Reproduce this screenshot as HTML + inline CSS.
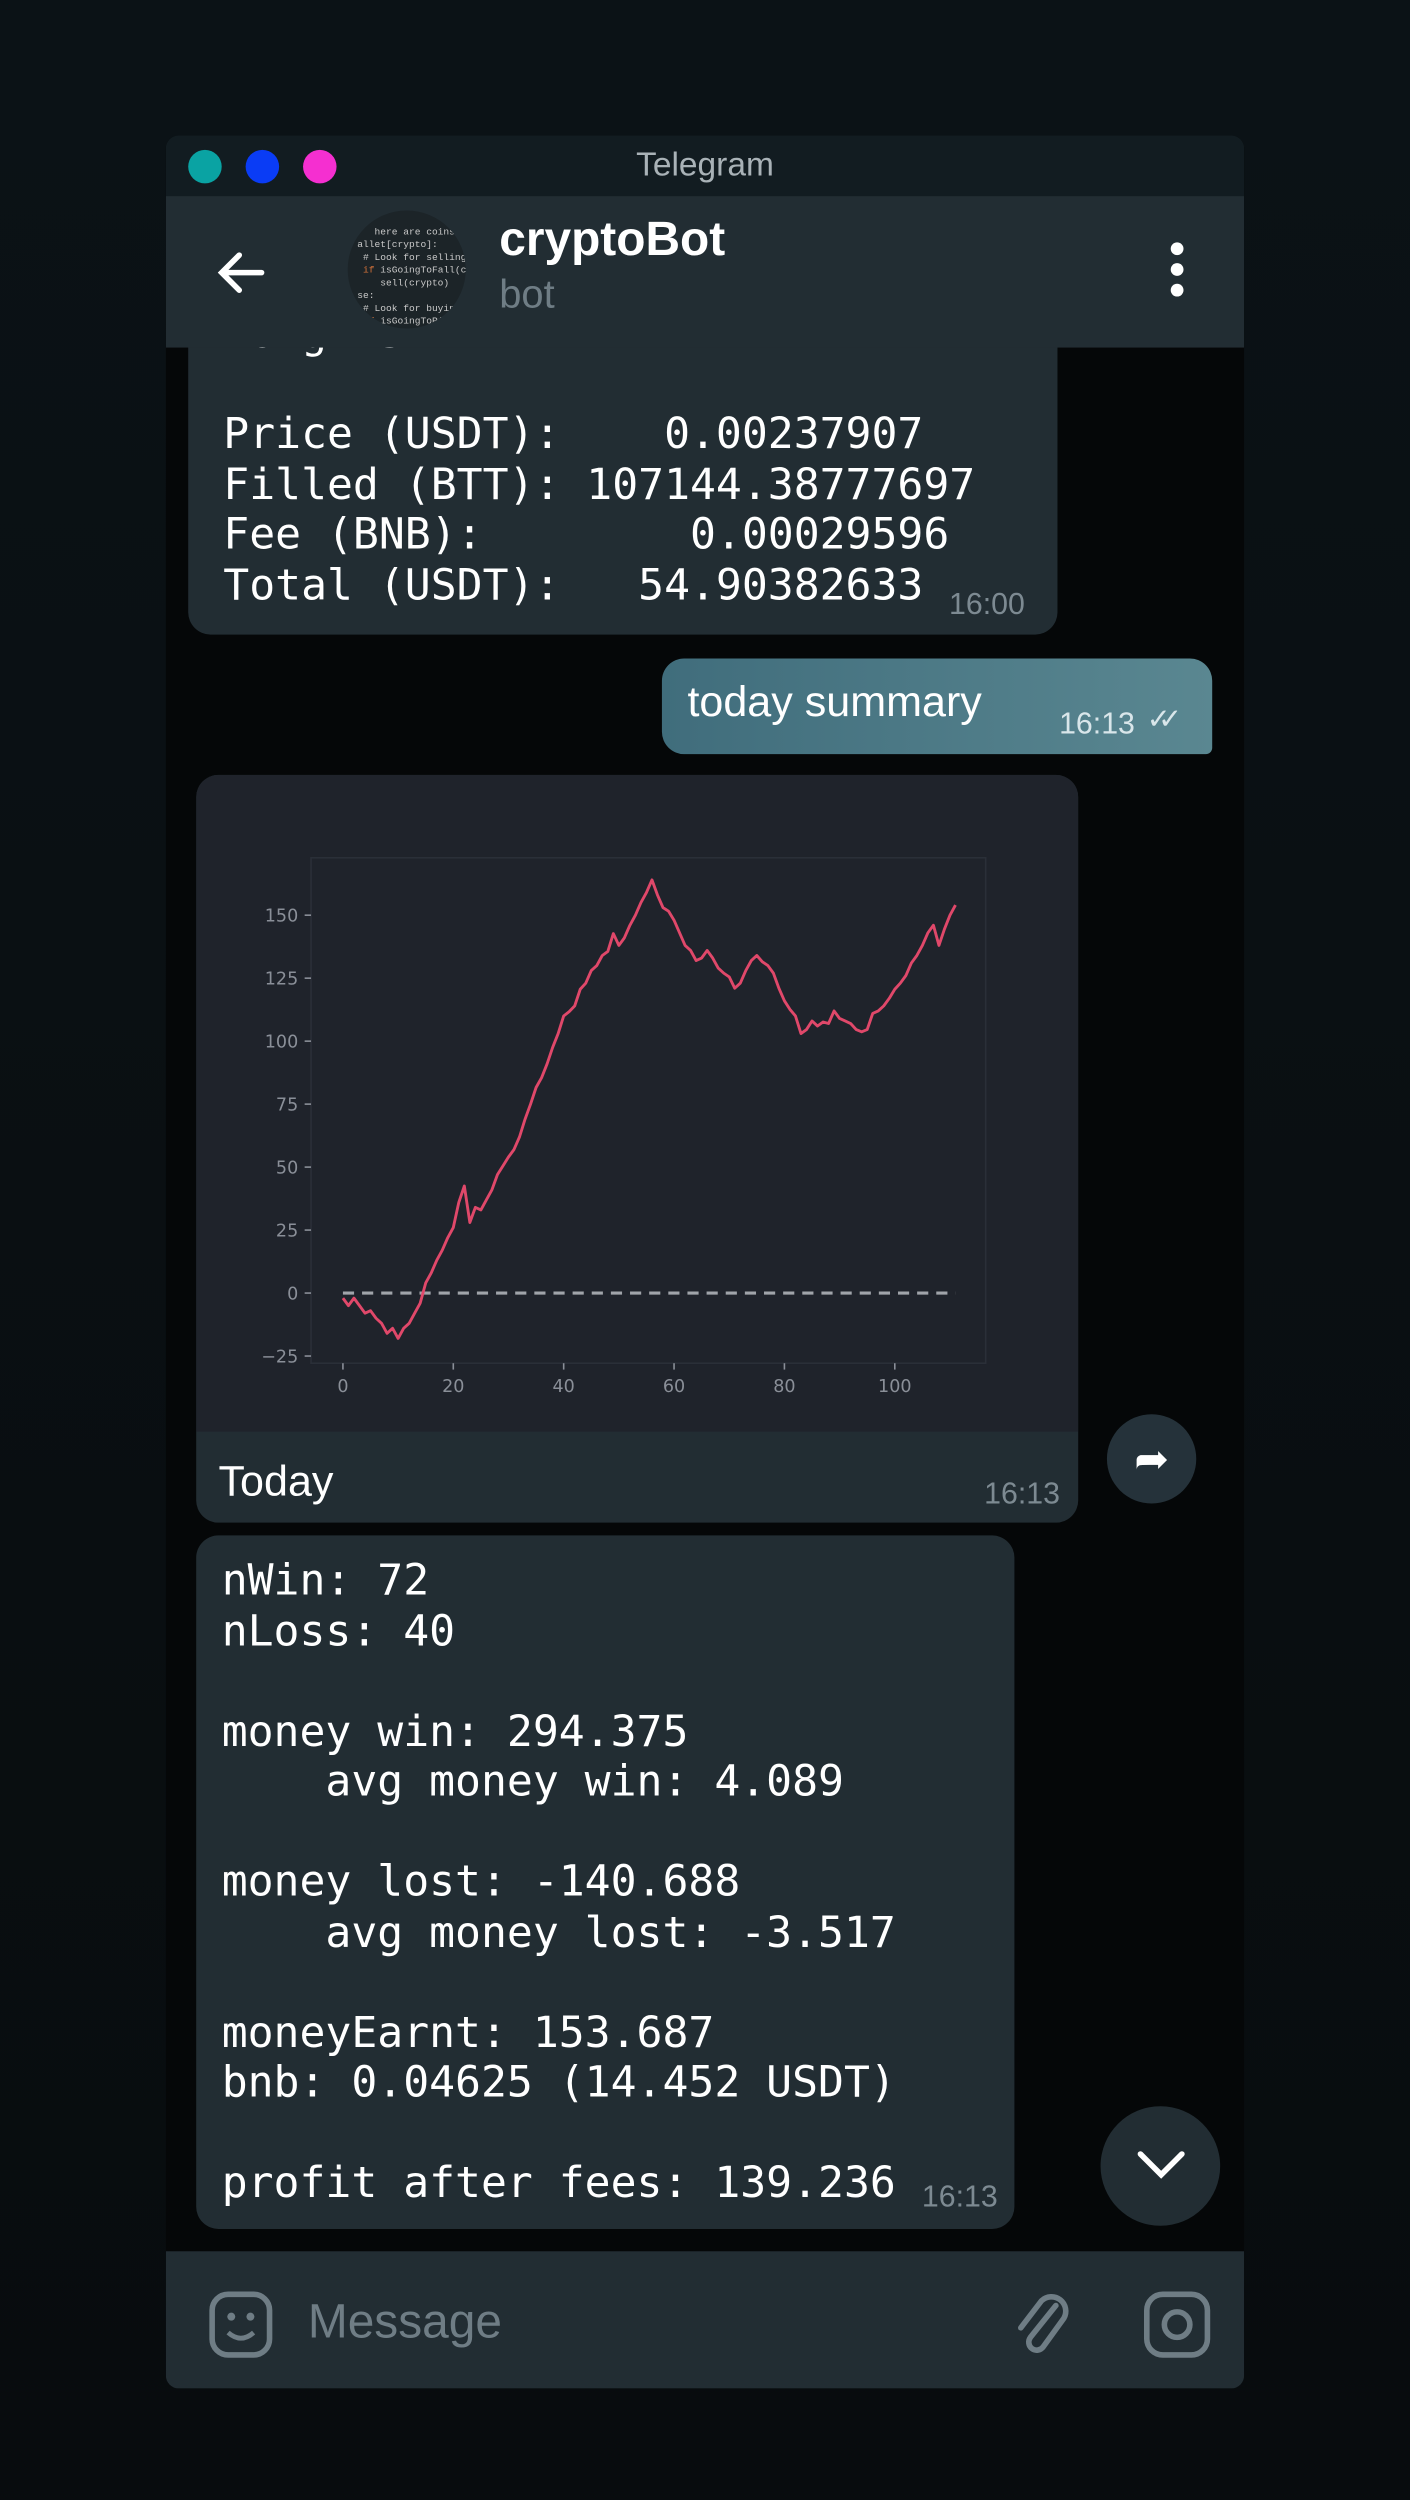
<!DOCTYPE html>
<html><head><meta charset="utf-8">
<style>
html,body{margin:0;padding:0;background:#0a0f12;}
body{width:1410px;height:2500px;overflow:hidden;position:relative;}
#s{position:absolute;left:0;top:0;width:884px;height:1568px;transform:scale(1.595,1.5944);transform-origin:0 0;background:linear-gradient(#0b1216,#080c0e);font-family:"Liberation Sans",sans-serif;}
.abs{position:absolute;}
.mono{font-family:"DejaVu Sans Mono","Liberation Mono",monospace;font-size:27px;line-height:31.5px;color:#fff;white-space:pre;}
.time{position:absolute;color:#7d8a92;font-size:19px;}
.bub{position:absolute;background:#222d33;border-radius:14px;}
</style></head><body>
<div id="s">
 <div class="abs" style="left:104px;top:85px;width:676px;height:1413px;background:#0b0f11;border-radius:8px;overflow:hidden;">
  <div class="abs" style="left:0;top:0;width:676px;height:38px;background:#121c21;">
   <div class="abs" style="left:14px;top:9px;width:21px;height:21px;border-radius:50%;background:#0aa3a3"></div>
   <div class="abs" style="left:50px;top:9px;width:21px;height:21px;border-radius:50%;background:#0a3cf5"></div>
   <div class="abs" style="left:86px;top:9px;width:21px;height:21px;border-radius:50%;background:#f52fd0"></div>
   <div class="abs" style="left:0;width:676px;top:7px;text-align:center;color:#a9b2b7;font-size:21px;">Telegram</div>
  </div>
  <div class="abs" style="left:0;top:133px;width:676px;height:1194px;background:#050708;"></div>

  <div class="bub" style="left:14px;top:100px;width:545px;height:213px;border-radius:0 0 14px 14px;">
   <div class="abs mono" style="left:22px;top:9px;">Long x5</div>
   <div class="abs mono" style="left:22px;top:72px;">Price (USDT):    0.00237907
Filled (BTT): 107144.38777697
Fee (BNB):        0.00029596
Total (USDT):   54.90382633</div>
   <div class="time" style="left:477px;top:184px;">16:00</div>
  </div>

  <div class="abs" style="left:0;top:38px;width:676px;height:95px;background:#222d33;">
   <svg class="abs" style="left:30px;top:30px" width="36" height="36" viewBox="0 0 36 36"><path d="M30 18H6M16 7L5 18l11 11" stroke="#fff" stroke-width="3.5" fill="none" stroke-linecap="round"/></svg>
   <div class="abs" style="left:114px;top:9px;width:74px;height:74px;border-radius:50%;background:#1c2428;overflow:hidden;font-family:'Liberation Mono',monospace;font-size:6px;line-height:8px;color:#c9c9c9;padding:10px 0 0 6px;box-sizing:border-box;white-space:pre;">   here are coins own
allet[crypto]:
 # Look for selling
 <span style="color:#d8743a">if</span> isGoingToFall(crypto
    sell(crypto)
se:
 # Look for buying
 <span style="color:#d8743a">if</span> isGoingToRise(crypt
    buy(crypto)</div>
   <div class="abs" style="left:209px;top:11px;color:#fff;font-size:30px;font-weight:bold;">cryptoBot</div>
   <div class="abs" style="left:209px;top:48px;color:#6f7d85;font-size:25px;">bot</div>
   <svg class="abs" style="left:626px;top:28px" width="16" height="36"><circle cx="8" cy="5" r="4" fill="#fff"/><circle cx="8" cy="18" r="4" fill="#fff"/><circle cx="8" cy="31" r="4" fill="#fff"/></svg>
  </div>

  <div class="abs" style="left:311px;top:328px;width:345px;height:60px;border-radius:14px 14px 4px 14px;background:linear-gradient(90deg,#406d7c,#5a8791);">
   <div class="abs" style="left:16px;top:12px;color:#fff;font-size:27px;">today summary</div>
   <div class="abs" style="left:249px;top:31px;color:#d9e6ea;font-size:19px;">16:13</div>
   <div class="abs" style="left:304px;top:28px;color:#d9e6ea;font-size:18px;letter-spacing:-8px;">✓✓</div>
  </div>

  <div class="bub" style="left:19px;top:401px;width:553px;height:469px;overflow:hidden;">
   <svg id="chart" class="abs" style="left:0;top:0" width="553" height="412"></svg>
   <div class="abs" style="left:14px;top:428px;color:#fff;font-size:27px;">Today</div>
   <div class="time" style="left:494px;top:441px;">16:13</div>
  </div>
  <div class="abs" style="left:590px;top:802px;width:56px;height:56px;border-radius:50%;background:#25323a;color:#fff;font-size:26px;text-align:center;line-height:56px;">➦</div>

  <div class="bub" style="left:19px;top:878px;width:513px;height:435px;">
   <div class="abs mono" style="left:16px;top:13px;">nWin: 72
nLoss: 40

money win: 294.375
    avg money win: 4.089

money lost: -140.688
    avg money lost: -3.517

moneyEarnt: 153.687
bnb: 0.04625 (14.452 USDT)

profit after fees: 139.236</div>
   <div class="time" style="left:455px;top:405px;">16:13</div>
  </div>
  <div class="abs" style="left:586px;top:1236px;width:75px;height:75px;border-radius:50%;background:#222d33;">
   <svg class="abs" style="left:22px;top:26px" width="32" height="22"><path d="M3 4l13 13L29 4" stroke="#fff" stroke-width="3.5" fill="none" stroke-linecap="round"/></svg>
  </div>

  <div class="abs" style="left:0;top:1327px;width:676px;height:86px;background:#222d33;">
   <svg class="abs" style="left:26px;top:24px" width="44" height="44"><rect x="3" y="3" width="36" height="38" rx="10" fill="none" stroke="#6f7d85" stroke-width="3.5"/><circle cx="15" cy="17" r="2.5" fill="#6f7d85"/><circle cx="27" cy="17" r="2.5" fill="#6f7d85"/><path d="M13 27q8 7 16 0" stroke="#6f7d85" stroke-width="3" fill="none"/></svg>
   <div class="abs" style="left:89px;top:28px;color:#6f7d85;font-size:30px;">Message</div>
   <svg class="abs" style="left:530px;top:24px" width="38" height="44"><path d="M28 10L12 30a5 5 0 0 0 8 6L33 18a9 9 0 0 0-14-11L6 24" stroke="#6f7d85" stroke-width="3.5" fill="none" stroke-linecap="round"/></svg>
   <svg class="abs" style="left:612px;top:24px" width="44" height="44"><rect x="3" y="3" width="38" height="38" rx="10" fill="none" stroke="#6f7d85" stroke-width="3.5"/><circle cx="22" cy="22" r="8" fill="none" stroke="#6f7d85" stroke-width="3.5"/></svg>
  </div>
 </div>
</div>
<script>
const xTicks=[0,20,40,60,80,100];
const yTicks=[-25,0,25,50,75,100,125,150];
const profit=[-2,-5,-2,-5,-8,-7,-10,-12,-16,-14,-18,-14,-12,-8,-4,4,8,13,17,22,26,36,42.5,28,34,33,37,41,47,50.5,54,57,62,69,75,81.6,85.5,91,97.5,103,110,111.7,114,120.6,123,128,130,134,135.6,142.7,138,141,146,150,155,159,164,158,153,151.6,148,143,138,136,132,133,136,133,129,127,125.5,121,123,128,132,134,131.5,130,127,121,116,112.6,110,103,104.6,108,106,107.6,107,112,109,108,107,104.6,103.7,104.6,111,112,114,117,120.6,123,126,131,134,138,143,146,138,144.5,150,154];
const NS='http://www.w3.org/2000/svg';
const svg=document.getElementById('chart');
const ox=123, oy=486;
const X=v=>215-ox+v*3.46;
const Y=v=>811-oy-v*1.58;
function mk(t,a){const e=document.createElementNS(NS,t);for(const k in a)e.setAttribute(k,a[k]);svg.appendChild(e);return e;}
const bg=mk('rect',{x:0,y:0,width:553,height:412,fill:'#1f232b'});


const fr=mk('rect',{x:195-ox,y:538-oy,width:423,height:317,fill:'none',stroke:'#2a2f38','stroke-width':1});


xTicks.forEach(t=>{
 const l=mk('line',{x1:X(t),x2:X(t),y1:855-oy,y2:859-oy,stroke:'#8a8f98'});
 
 
 const tx=mk('text',{x:X(t),y:873-oy,fill:'#8a8f98','font-size':11,'text-anchor':'middle','font-family':'DejaVu Sans, sans-serif'});
 tx.textContent=t;
 
 
});
yTicks.forEach(t=>{
 const l=mk('line',{x1:191-ox,x2:195-ox,y1:Y(t),y2:Y(t),stroke:'#8a8f98'});
 
 
 const tx=mk('text',{x:187-ox,y:Y(t)+4,fill:'#8a8f98','font-size':11,'text-anchor':'end','font-family':'DejaVu Sans, sans-serif'});
 tx.textContent=t<0?'\u2212'+(-t):t;
 
 
});
const zl=mk('line',{x1:X(0),x2:X(profit.length-1),y1:Y(0),y2:Y(0),stroke:'#a0a4aa','stroke-width':2,'stroke-dasharray':'7,5'});


const pl=mk('polyline',{points:profit.map((v,i)=>X(i)+','+Y(v)).join(' '),fill:'none',stroke:'#e0486a','stroke-width':1.8,'stroke-linejoin':'round'});


</script>
</body></html>
